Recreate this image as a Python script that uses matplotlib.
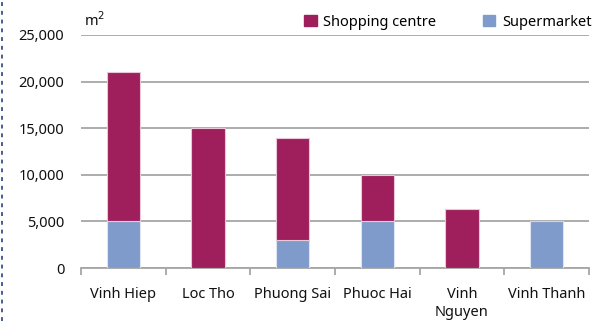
import matplotlib
matplotlib.use("Agg")
import matplotlib.pyplot as plt
from matplotlib.lines import Line2D
from matplotlib.patches import Patch
import numpy as np

categories = ["Vinh Hiep", "Loc Tho", "Phuong Sai", "Phuoc Hai", "Vinh\nNguyen", "Vinh Thanh"]
supermarket = [5000, 0, 3000, 5000, 0, 5000]
shopping_centre = [16000, 15000, 11000, 5000, 6300, 0]
yticks = [0, 5000, 10000, 15000, 20000, 25000]

c_shop = "#9E1F5C"
c_super = "#7F9BCB"

plt.rcParams['font.family'] = ['Noto Sans', 'DejaVu Sans']

fig = plt.figure(figsize=(5.98, 3.21), dpi=100)
ax = fig.add_axes([81/598, 1-268/321, (589-81)/598, (268-35)/321])

x = np.arange(len(categories))
w = 0.39
ax.bar(x, supermarket, w, color=c_super, edgecolor="#DDE3F0", linewidth=0.8, zorder=3, label="Supermarket")
ax.bar(x, shopping_centre, w, bottom=supermarket, color=c_shop, edgecolor="#E8C8D8", linewidth=0.8, zorder=3, label="Shopping centre")

ax.set_xlim(-0.5, len(categories) - 0.5)
ax.set_ylim(0, 25000)
ax.set_yticks(yticks)
ax.set_yticklabels([f"{v:,}" for v in yticks], fontsize=10.5, color="#111111")
ax.yaxis.grid(True, color="#A6A6A6", linewidth=1.3, zorder=0)
ax.set_axisbelow(True)
ax.tick_params(axis='y', length=0, pad=12)

ax.set_xticks(x)
ax.set_xticklabels(categories, fontsize=10.5, color="#111111", linespacing=1.25)
ax.set_xticks(np.arange(len(categories) + 1) - 0.5, minor=True)
ax.tick_params(axis='x', which='major', length=0, pad=14)
ax.tick_params(axis='x', which='minor', length=5, color="#A6A6A6", width=1.3)

for s in ["top", "right", "left"]:
    ax.spines[s].set_visible(False)
ax.spines["bottom"].set_color("#A6A6A6")
ax.spines["bottom"].set_linewidth(1.3)

fig.text(84/598, 1-21/321, "m$^2$", fontsize=10.5, va="center", ha="left", color="#111111")

handles = [Patch(color=c_shop), Patch(color=c_super)]
leg = fig.legend(handles, ["Shopping centre", "Supermarket"], loc="center",
                 bbox_to_anchor=(448/598, 1-22/321), ncol=2, frameon=False,
                 fontsize=10.5, handlelength=0.85, handleheight=0.85,
                 handletextpad=0.45, columnspacing=3.2, borderpad=0)

fig.add_artist(Line2D([2/598, 2/598], [0, 1], transform=fig.transFigure,
                      color="#44608F", linestyle=(0, (2, 2.5)), linewidth=1.4))

fig.savefig("out.png", dpi=100)
